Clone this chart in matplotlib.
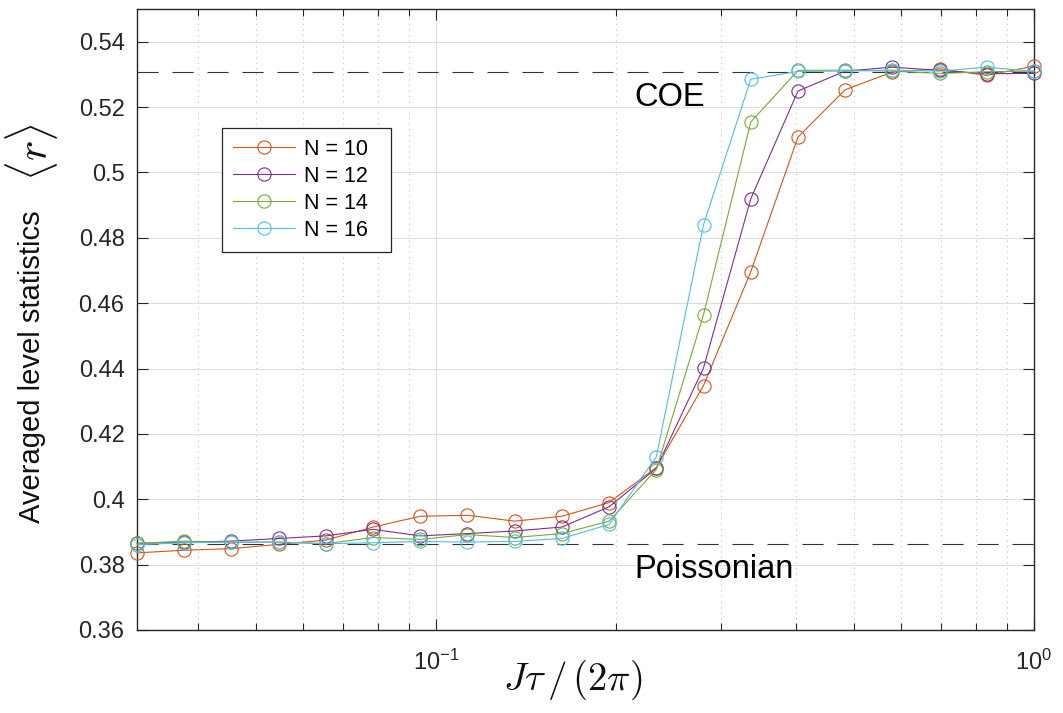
import numpy as np
import matplotlib
matplotlib.use('Agg')
import matplotlib.pyplot as plt
from matplotlib.ticker import LogLocator, NullFormatter, FixedLocator

plt.rcParams['font.family'] = ['Liberation Sans', 'DejaVu Sans']
plt.rcParams['mathtext.fontset'] = 'cm'

# J*tau/(2*pi) values (log spaced sweep)
j_tau = [0.03162, 0.03793, 0.04549, 0.05456, 0.06543, 0.07848, 0.09412,
         0.11288, 0.13539, 0.16238, 0.19475, 0.23357, 0.28013, 0.33598,
         0.40296, 0.48329, 0.57964, 0.69519, 0.83378, 1.0]

r_n10 = [0.3836, 0.3844, 0.3849, 0.3862, 0.3875, 0.3915, 0.3948, 0.3951,
         0.3933, 0.3948, 0.3990, 0.4097, 0.4348, 0.4696, 0.5108, 0.5253,
         0.5307, 0.5317, 0.5297, 0.5325]
r_n12 = [0.3865, 0.3868, 0.3872, 0.3880, 0.3888, 0.3908, 0.3888, 0.3895,
         0.3903, 0.3915, 0.3977, 0.4095, 0.4402, 0.4919, 0.5249, 0.5310,
         0.5322, 0.5312, 0.5302, 0.5303]
r_n14 = [0.3865, 0.3872, 0.3868, 0.3869, 0.3864, 0.3883, 0.3877, 0.3892,
         0.3883, 0.3895, 0.3933, 0.4091, 0.4565, 0.5154, 0.5312, 0.5313,
         0.5310, 0.5303, 0.5308, 0.5310]
r_n16 = [0.3861, 0.3867, 0.3869, 0.3869, 0.3864, 0.3867, 0.3871, 0.3869,
         0.3871, 0.3880, 0.3923, 0.4130, 0.4840, 0.5285, 0.5309, 0.5310,
         0.5313, 0.5310, 0.5322, 0.5309]

series = [('N = 10', r_n10, '#D95319'),
          ('N = 12', r_n12, '#7E2F8E'),
          ('N = 14', r_n14, '#77AC30'),
          ('N = 16', r_n16, '#4DBEEE')]

r_poisson = 0.3863
r_coe = 0.5307

W, H = 1063, 713
fig = plt.figure(figsize=(W / 100, H / 100), dpi=100)
ax = fig.add_axes([137 / W, 1 - 630 / H, (1034 - 137) / W, (630 - 9) / H])

ax.set_xscale('log')
ax.set_xlim(j_tau[0], j_tau[-1])
ax.set_ylim(0.36, 0.55)

# grid first so data sits on top
ax.set_axisbelow(True)
ax.yaxis.grid(True, which='major', color='#dedede', lw=0.8, ls='-')
ax.xaxis.grid(True, which='major', color='#dedede', lw=0.8, ls='-')
ax.xaxis.grid(True, which='minor', color='#bdbdbd', lw=0.8, ls=(0, (1, 4)))

dash = (0, (19, 12.5))
ax.axhline(r_coe, color='#333333', lw=0.8, ls=dash, zorder=1.5)
ax.axhline(r_poisson, color='#333333', lw=0.8, ls=dash, zorder=1.5)

for lab, vals, col in series:
    ax.plot(j_tau, vals, '-o', color=col, lw=0.8, ms=9.5, mfc='none',
            mew=0.8, label=lab + '\u00a0\u00a0', clip_on=False, zorder=3)

yt = np.round(np.arange(0.36, 0.5401, 0.02), 2)
ax.set_yticks(yt)
ax.set_yticklabels(['%g' % v for v in yt])
ax.xaxis.set_major_locator(FixedLocator([0.1, 1.0]))
ax.set_xticklabels([r'$\mathdefault{10^{-1}}$', r'$\mathdefault{10^{0}}$'])
ax.xaxis.set_minor_locator(LogLocator(base=10, subs=np.arange(2, 10)))
ax.xaxis.set_minor_formatter(NullFormatter())

ax.tick_params(which='both', direction='in', top=True, right=True,
               colors='#262626', labelsize=17, width=0.8)
ax.tick_params(which='major', length=8)
ax.tick_params(which='minor', length=5)
ax.tick_params(axis='y', which='major', pad=9)
ax.tick_params(axis='x', which='major', pad=14)
for sp in ax.spines.values():
    sp.set_color('#262626')
    sp.set_linewidth(1.0)

fig.text(573 / W, 1 - 680 / H, r'$J\tau\,/\,(2\pi)$', fontsize=28,
         ha='center', va='center', color='#111111')

fig.text(32 / W, 1 - 367 / H, 'Averaged level statistics', rotation=90,
         ha='center', va='center', fontsize=21, color='#111111')
fig.text(32 / W, 1 - 152 / H, r'$\langle r \rangle$', rotation=90,
         ha='center', va='center', fontsize=31, color='#111111')

ax.text(0.2143, 0.5202, 'COE', fontsize=23.5, ha='left', va='baseline')
ax.text(0.2143, 0.3758, 'Poissonian', fontsize=23.5, ha='left', va='baseline')

leg = ax.legend(loc='upper left', bbox_to_anchor=((222 - 137) / 897, (630 - 128) / 621),
                borderaxespad=0, fontsize=15.5, fancybox=False, framealpha=1,
                edgecolor='#262626', handlelength=2.9, handletextpad=0.4,
                labelspacing=0.28, borderpad=0.5)
leg.get_frame().set_linewidth(0.9)

fig.savefig('out.png', dpi=100)
